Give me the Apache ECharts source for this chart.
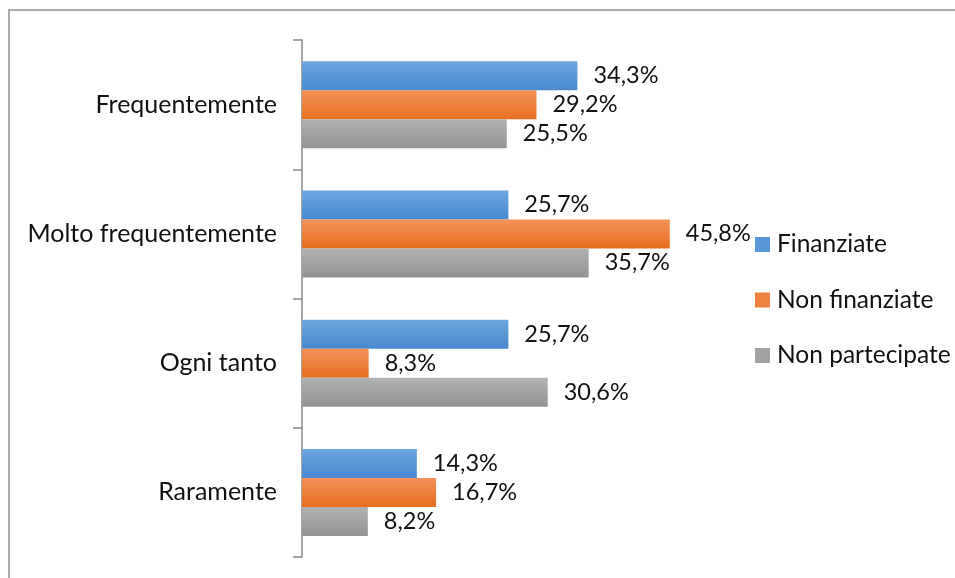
<!DOCTYPE html>
<html>
<head>
<meta charset="utf-8">
<script src="https://cdn.jsdelivr.net/npm/echarts@6/dist/echarts.min.js"></script>
<style>
  html, body { margin: 0; padding: 0; background: #ffffff; }
  #chart { width: 955px; height: 578px; }
</style>
</head>
<body>
<div id="chart"></div>
<script>
// Categories listed top to bottom
const categories = ['Frequentemente', 'Molto frequentemente', 'Ogni tanto', 'Raramente'];
const seriesNames = ['Finanziate', 'Non finanziate', 'Non partecipate'];
// Shares in percent
const finanziate = [34.3, 25.7, 25.7, 14.3];
const nonFinanziate = [29.2, 45.8, 8.3, 16.7];
const nonPartecipate = [25.5, 35.7, 30.6, 8.2];

const FONT = 'Lato, "Noto Sans", sans-serif';

function grad(top, bottom) {
  return new echarts.graphic.LinearGradient(0, 0, 0, 1, [
    { offset: 0, color: top },
    { offset: 1, color: bottom }
  ]);
}
const fills = [
  grad('#6ea6de', '#4889d0'),
  grad('#f3925a', '#e76f1e'),
  grad('#b2b2b2', '#929292')
];
const legendColors = ['#5a97d8', '#ef8240', '#a2a2a2'];

function pct(v) {
  return v.toFixed(1).replace('.', ',') + '%';
}

function makeSeries(name, data, idx) {
  return {
    name: name,
    type: 'bar',
    data: data,
    barWidth: 29,
    barGap: '0%',
    itemStyle: { color: fills[idx] },
    label: {
      show: true,
      position: 'right',
      distance: 16,
      fontFamily: FONT,
      fontSize: 23.5,
      color: '#111',
      formatter: p => pct(p.value)
    },
    emphasis: { disabled: true }
  };
}

const chart = echarts.init(document.getElementById('chart'));
chart.setOption({
  animation: false,
  backgroundColor: '#ffffff',
  graphic: [{
    type: 'rect',
    silent: true,
    z: -10,
    shape: { x: 9, y: 10, width: 2000, height: 2000 },
    style: { fill: 'none', stroke: '#ababab', lineWidth: 2 }
  }],
  legend: {
    orient: 'vertical',
    left: 755,
    top: 232,
    padding: 0,
    itemWidth: 15,
    itemHeight: 15,
    itemGap: 30.5,
    icon: 'rect',
    textStyle: { fontFamily: FONT, fontSize: 24.5, lineHeight: 24, color: '#111', padding: [0, 0, 0, 2] },
    data: seriesNames.map((n, i) => ({ name: n, itemStyle: { color: legendColors[i] } }))
  },
  grid: { left: 302, top: 40, bottom: 21, right: 251.5, containLabel: false },
  xAxis: {
    type: 'value',
    min: 0,
    max: 50,
    show: false,
    splitLine: { show: false }
  },
  yAxis: {
    type: 'category',
    data: categories,
    inverse: true,
    axisLine: { lineStyle: { color: '#888888', width: 1.5 } },
    axisTick: { show: true, length: 9, lineStyle: { color: '#888888', width: 1.5 } },
    axisLabel: { fontFamily: FONT, fontSize: 25, color: '#111', margin: 25 }
  },
  series: [
    makeSeries(seriesNames[0], finanziate, 0),
    makeSeries(seriesNames[1], nonFinanziate, 1),
    makeSeries(seriesNames[2], nonPartecipate, 2)
  ]
});
</script>
</body>
</html>
